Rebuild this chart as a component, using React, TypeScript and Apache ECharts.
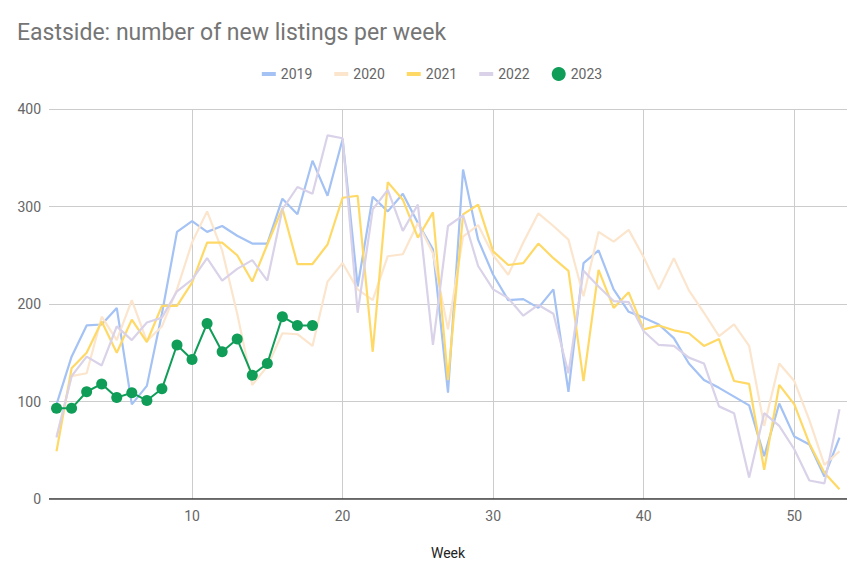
import React, { useEffect, useRef } from "react";
import * as echarts from "echarts";

const weeks: number[] = Array.from({ length: 53 }, (_, i) => i + 1);

const y2019 = [97,146,178,179,196,97,116,190,274,285,274,280,270,262,262,308,292,347,311,369,218,310,295,313,283,256,109,338,266,230,204,205,196,215,110,242,255,215,192,186,179,165,139,122,114,105,96,44,98,64,56,23,63];
const y2020 = [64,126,129,187,163,204,162,177,215,263,295,255,190,117,136,170,169,157,223,242,215,204,249,251,283,252,174,269,281,250,230,263,293,280,266,208,274,264,276,248,215,247,214,191,167,179,157,75,139,121,81,35,49];
const y2021 = [49,134,150,182,150,184,161,198,198,222,263,263,250,223,261,298,241,241,261,309,311,151,325,307,268,294,122,292,302,254,240,242,262,247,234,121,235,196,212,174,178,173,170,157,164,121,118,30,117,97,57,27,10];
const y2022 = [63,126,146,137,177,163,181,186,213,225,247,224,236,245,224,297,320,313,373,370,191,297,317,275,302,158,280,291,239,215,206,188,199,190,129,234,218,203,202,172,158,157,145,139,95,88,22,88,75,51,19,16,92];
const y2023 = [93,93,110,118,104,109,101,113,158,143,180,151,164,127,139,187,178,178];

const xTicks = [10, 20, 30, 40, 50];

const seriesNames = ["2019", "2020", "2021", "2022", "2023"];
const seriesColors = ["#a4c2f4", "#fce5cd", "#ffd966", "#d9d2e9", "#0f9d58"];

const pair = (vals: number[]) => vals.map((v, i) => [weeks[i], v]);

export default function App() {
  const ref = useRef<HTMLDivElement>(null);
  useEffect(() => {
    if (!ref.current) return;
    const chart = echarts.init(ref.current, null, { renderer: "svg" });
    const lineData = [y2019, y2020, y2021, y2022];
    const series: any[] = lineData.map((d, i) => ({
      name: seriesNames[i],
      type: "line",
      data: pair(d),
      showSymbol: false,
      symbol: "none",
      lineStyle: { color: seriesColors[i], width: 2.2 },
      itemStyle: { color: seriesColors[i] },
      z: 2 + i,
    }));
    series.push({
      name: seriesNames[4],
      type: "line",
      data: pair(y2023),
      symbol: "circle",
      symbolSize: 11,
      lineStyle: { color: seriesColors[4], width: 2 },
      itemStyle: { color: seriesColors[4] },
      z: 10,
    });
    chart.setOption({
      animation: false,
      backgroundColor: "#ffffff",
      textStyle: { fontFamily: "Roboto" },
      title: {
        text: "Eastside: number of new listings per week",
        left: 12,
        top: 16,
        textStyle: { fontFamily: "Roboto", fontSize: 23, fontWeight: "normal", color: "#757575" },
      },
      legend: {
        top: 62,
        left: "center",
        itemGap: 22,
        itemWidth: 14,
        itemHeight: 14,
        textStyle: { fontFamily: "Roboto", fontSize: 14, color: "#666666" },
        data: seriesNames.map((n, i) =>
          i < 4
            ? { name: n, icon: "path://M0,5 L14,5 L14,9 L0,9 Z", itemStyle: { color: seriesColors[i] } }
            : { name: n, icon: "circle", itemStyle: { color: seriesColors[i] } }
        ),
      },
      grid: { left: 49, right: 17, top: 109, bottom: 77, containLabel: false },
      xAxis: {
        type: "value",
        min: 0.5,
        max: 53.5,
        name: "Week",
        nameLocation: "middle",
        nameGap: 47,
        nameTextStyle: { fontFamily: "Roboto", fontSize: 14, color: "#222222" },
        axisLine: { show: false },
        axisTick: { show: false, customValues: xTicks },
        axisLabel: { customValues: xTicks, fontFamily: "Roboto", fontSize: 14, color: "#666666", margin: 10 },
        splitLine: { show: true, lineStyle: { color: "#cccccc", width: 1 } },
      },
      yAxis: {
        type: "value",
        min: 0,
        max: 400,
        interval: 100,
        axisLine: { show: false },
        axisTick: { show: false },
        axisLabel: { fontFamily: "Roboto", fontSize: 14, color: "#666666", margin: 8 },
        splitLine: { show: true, lineStyle: { color: "#cccccc", width: 1 } },
      },
      series: [
        ...series,
        {
          type: "line",
          data: [[0.5, 0], [53.5, 0]],
          symbol: "none",
          silent: true,
          lineStyle: { color: "#333333", width: 1.5 },
          z: 1,
          legendHoverLink: false,
          tooltip: { show: false },
        },
      ],
    });
    return () => chart.dispose();
  }, []);
  return <div ref={ref} style={{ width: 864, height: 576, margin: -8 }} />;
}
